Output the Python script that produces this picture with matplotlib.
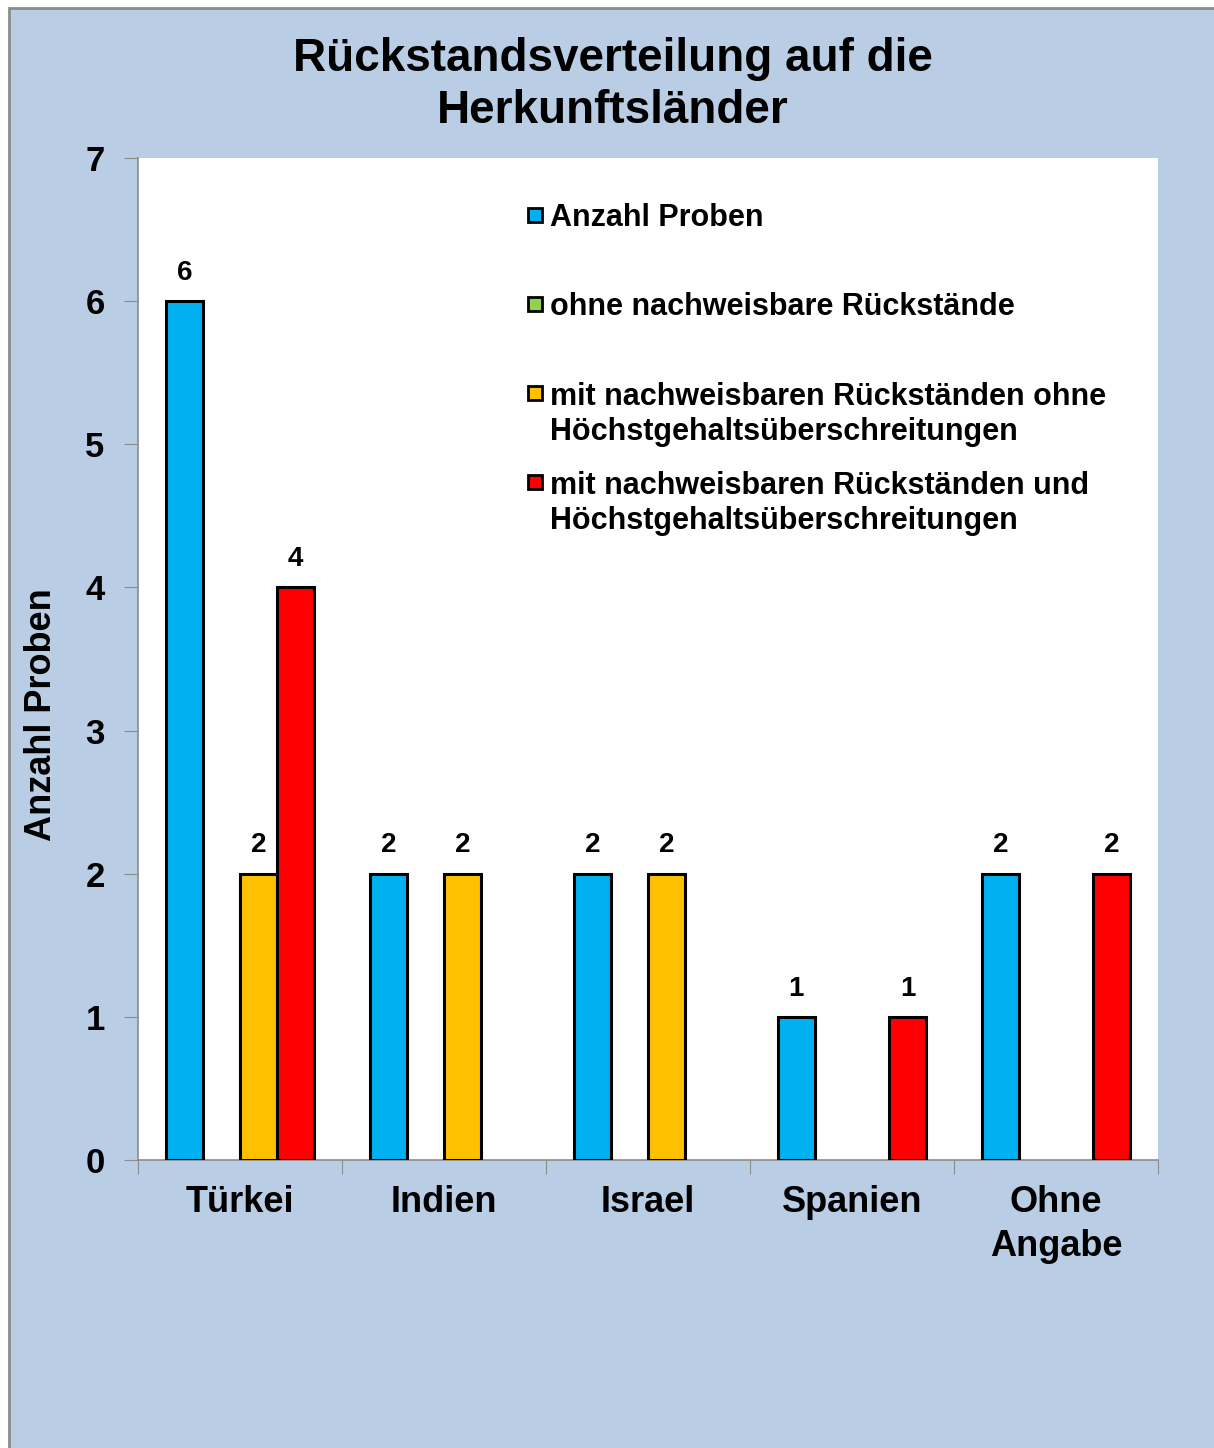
import numpy as np
import matplotlib
matplotlib.use("Agg")
import matplotlib.pyplot as plt
from matplotlib.patches import Rectangle

plt.rcParams['font.family'] = ['Liberation Sans', 'DejaVu Sans']
plt.rcParams['font.weight'] = 'bold'

categories = ["Türkei", "Indien", "Israel", "Spanien", "Ohne\nAngabe"]
series_names = ["Anzahl Proben",
                "ohne nachweisbare Rückstände",
                "mit nachweisbaren Rückständen ohne\nHöchstgehaltsüberschreitungen",
                "mit nachweisbaren Rückständen und\nHöchstgehaltsüberschreitungen"]
anzahl = [6, 2, 2, 1, 2]
ohne_rueckstaende = [0, 0, 0, 0, 0]
mit_ohne_hg = [2, 2, 2, 0, 0]
mit_und_hg = [4, 0, 0, 1, 2]
series_values = [anzahl, ohne_rueckstaende, mit_ohne_hg, mit_und_hg]
colors = ["#00B0F0", "#92D050", "#FFC000", "#FF0000"]
yticks = [0, 1, 2, 3, 4, 5, 6, 7]

W, H = 1214, 1448
fig = plt.figure(figsize=(W/100, H/100), dpi=100)
fig.patch.set_facecolor("white")
bg = Rectangle((9/W, -0.05), 1.2, 1 - 8/H + 0.05, transform=fig.transFigure,
               facecolor="#B9CDE5", edgecolor="#8C8C8C", linewidth=2, zorder=-10)
fig.patches.append(bg)

ax = fig.add_axes([138/W, 1 - 1160/H, (1158-138)/W, (1160-158)/H])
ax.set_facecolor("white")

n = len(series_values)
w = 1 / (n + 1.5)
x = np.arange(len(categories))
for k, (vals, col) in enumerate(zip(series_values, colors)):
    vals = np.array(vals, dtype=float)
    mask = vals > 0
    if not mask.any():
        continue
    bars = ax.bar(x[mask] + (k - (n - 1) / 2) * w, vals[mask], width=w,
                  color=col, edgecolor="black", linewidth=2.2, zorder=3)
    ax.bar_label(bars, labels=[f"{v:g}" for v in vals[mask]], padding=11,
                 fontsize=20, fontweight="bold")

ax.set_xlim(-0.5, len(categories) - 0.5)
ax.set_ylim(0, 7)
ax.set_yticks(yticks)
ax.set_yticklabels([str(t) for t in yticks], fontsize=25, fontweight="bold")
ax.set_xticks(np.arange(len(categories) + 1) - 0.5)
ax.set_xticklabels([])
ax.set_xticks(x, minor=True)
ax.set_xticklabels(categories, minor=True, fontsize=26, fontweight="bold",
                   linespacing=1.33)
ax.tick_params(axis="x", which="minor", length=0, pad=18)
ax.tick_params(axis="x", which="major", length=10, color="#8C8C8C", direction="out")
ax.tick_params(axis="y", length=10, color="#8C8C8C", direction="out", pad=14)
for s in ["top", "right"]:
    ax.spines[s].set_visible(False)
for s in ["left", "bottom"]:
    ax.spines[s].set_color("#8C8C8C")
    ax.spines[s].set_linewidth(1.2)

# legend (manual, Excel-like spacing)
leg_y_px = [215, 304, 393, 482]
nlines = [1, 1, 2, 2]
for name, col, ypx, nl in zip(series_names, colors, leg_y_px, nlines):
    yf = (1160 - ypx) / 1002
    ax.plot([(535.5 - 138) / 1020], [yf], marker="s", ms=10.5, mfc=col, mec="black",
            mew=2, transform=ax.transAxes, clip_on=False, zorder=5)
    yc = (1160 - (ypx + 3 + (nl - 1) * 37 / 2)) / 1002
    ax.text((550 - 138) / 1020, yc, name, transform=ax.transAxes, ha="left",
            va="center", fontsize=22, fontweight="bold", linespacing=1.2)

fig.text(613 / W, 1 - 85 / H, "Rückstandsverteilung auf die\nHerkunftsländer",
         ha="center", va="center", fontsize=33, fontweight="bold", linespacing=1.25)
fig.text(42 / W, 1 - 715 / H, "Anzahl Proben", rotation=90, ha="center",
         va="center", fontsize=26, fontweight="bold")

fig.savefig("out.png", dpi=100, facecolor=fig.get_facecolor())
